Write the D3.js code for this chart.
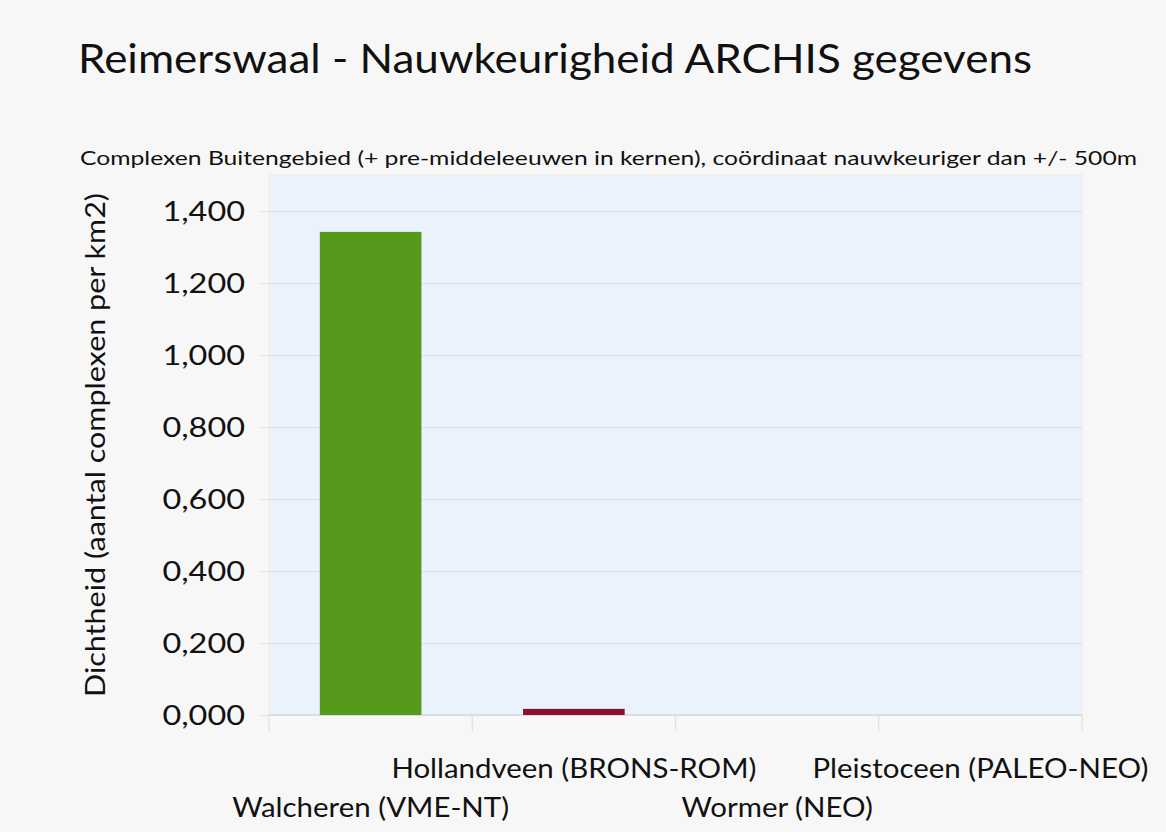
<!DOCTYPE html>
<html><head><meta charset="utf-8">
<script src="https://cdn.jsdelivr.net/npm/d3@7"></script>
<style>body{margin:0;background:#f7f7f7;} svg{display:block;}</style>
</head><body>
<svg id="c" width="1166" height="832"></svg>
<script>
const categories = ["Walcheren (VME-NT)", "Hollandveen (BRONS-ROM)", "Wormer (NEO)", "Pleistoceen (PALEO-NEO)"];
const values = [1.342, 0.017, 0, 0];
const colors = ["#569a1c", "#8b1030", "#4a6fb0", "#c07020"];
const yTicks = [0, 0.2, 0.4, 0.6, 0.8, 1.0, 1.2, 1.4];
const title = "Reimerswaal - Nauwkeurigheid ARCHIS gegevens";
const subtitle = "Complexen Buitengebied (+ pre-middeleeuwen in kernen), coördinaat nauwkeuriger dan +/- 500m";
const yLabel = "Dichtheid (aantal complexen per km2)";

const font = "'Lato', 'Open Sans', sans-serif";
const widen = 1.13;
function stretch(sel, f) {
  sel.each(function() {
    const w = this.getComputedTextLength();
    d3.select(this).attr("textLength", w * (f || widen)).attr("lengthAdjust", "spacingAndGlyphs");
  });
}
const svg = d3.select("#c");
svg.append("rect").attr("width",1166).attr("height",832).attr("fill","#f7f7f7");

const m = {left:269, right:1082, top:175, bottom:715};
const x = d3.scaleBand().domain(categories).range([m.left, m.right]).paddingInner(0.5).paddingOuter(0.25);
const xb = d3.scaleBand().domain(categories).range([m.left, m.right]);
const y = d3.scaleLinear().domain([0, 1.5]).range([m.bottom, m.top]);

svg.append("rect").attr("x",m.left).attr("y",m.top).attr("width",m.right-m.left).attr("height",m.bottom-m.top)
  .attr("fill","#eaf2fe").attr("stroke","#f0f0e8").attr("stroke-width",1.5);

const fmt = v => d3.format(".3f")(v).replace(".", ",");
const yAxis = d3.axisLeft(y).tickValues(yTicks).tickFormat(fmt).tickSize(m.right-m.left+8);
const gy = svg.append("g").attr("transform",`translate(${m.right},0)`).call(yAxis);
gy.select(".domain").remove();
gy.selectAll(".tick line").attr("stroke","#d8e1ea").attr("stroke-width",1.2)
  .attr("x1",0).attr("x2",-(m.right-m.left+8));
gy.selectAll(".tick text").attr("x",-(m.right-245)).attr("text-anchor","end")
  .attr("font-family",font).attr("font-size",27).attr("fill","#111").attr("dy","0.36em")
  .call(stretch, 1.2);

const bounds = categories.map(c => xb(c)).concat([m.right]);
svg.append("g").selectAll("line").data(bounds).join("line")
  .attr("x1",d=>d).attr("x2",d=>d).attr("y1",m.bottom).attr("y2",m.bottom+16)
  .attr("stroke","#e0e0e0").attr("stroke-width",1.2);
svg.append("line").attr("x1",m.left).attr("x2",m.right).attr("y1",m.bottom).attr("y2",m.bottom)
  .attr("stroke","#d0dbe3").attr("stroke-width",1.5);

svg.append("g").selectAll("rect").data(categories).join("rect")
  .attr("x",d=>x(d)).attr("width",x.bandwidth())
  .attr("y",(d,i)=>y(values[i])).attr("height",(d,i)=>y(0)-y(values[i]))
  .attr("fill",(d,i)=>colors[i]);

svg.append("g").selectAll("text").data(categories).join("text")
  .attr("x",d=>xb(d)+xb.bandwidth()/2)
  .attr("y",(d,i)=> i%2===0 ? 817 : 778)
  .attr("text-anchor","middle").attr("font-family",font).attr("font-size",27).attr("fill","#111")
  .text(d=>d).call(stretch, 1.09);

svg.append("text").attr("x",78).attr("y",73).attr("font-family",font).attr("font-size",41).attr("fill","#111")
  .attr("textLength",954).attr("lengthAdjust","spacingAndGlyphs").text(title);
svg.append("text").attr("x",80).attr("y",165).attr("font-family",font).attr("font-size",20).attr("fill","#111")
  .attr("textLength",1057).attr("lengthAdjust","spacingAndGlyphs").text(subtitle);
svg.append("text").attr("transform","translate(105,445) rotate(-90)").attr("text-anchor","middle")
  .attr("font-family",font).attr("font-size",27).attr("fill","#111").text(yLabel).call(stretch);
</script>
</body></html>
